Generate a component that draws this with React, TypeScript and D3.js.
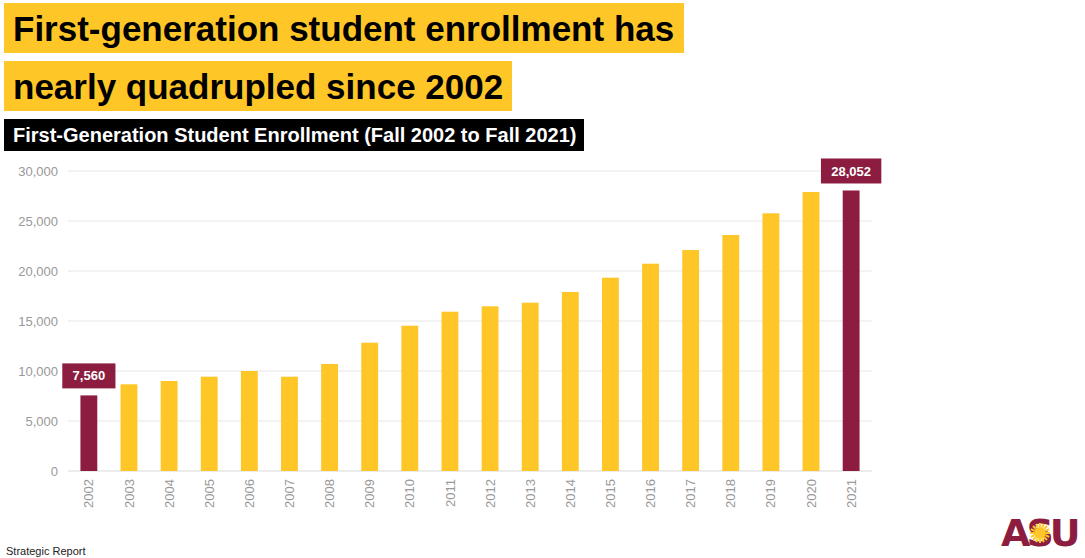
import React from "react";
import * as d3 from "d3";

const years = ["2002","2003","2004","2005","2006","2007","2008","2009","2010","2011","2012","2013","2014","2015","2016","2017","2018","2019","2020","2021"];
const enrollment = [7560,8670,9000,9430,10000,9430,10700,12830,14530,15930,16470,16830,17900,19330,20730,22100,23600,25770,27900,28052];
const highlighted = ["2002","2021"];
const yTicks = [0,5000,10000,15000,20000,25000,30000];
const titleLines = ["First-generation student enrollment has","nearly quadrupled since 2002"];
const subtitle = "First-Generation Student Enrollment (Fall 2002 to Fall 2021)";
const footer = "Strategic Report";

const W = 1085, H = 558;
const GOLD = "#FFC627";
const MAROON = "#8C1D40";
const FONT = "'Liberation Sans', Arial, Helvetica, sans-serif";

export default function App() {
  const x = d3.scaleBand<string>().domain(years).range([68, 872]).paddingInner(0.58).paddingOuter(0.31);
  const y = d3.scaleLinear().domain([0, 30000]).range([471, 171]);
  const fmt = d3.format(",");

  const sunRays = d3.range(16).map(i => {
    const a = (i / 16) * Math.PI * 2;
    return { x1: Math.cos(a) * 6, y1: Math.sin(a) * 6, x2: Math.cos(a) * 10, y2: Math.sin(a) * 10 };
  });

  return (
    <svg width={W} height={H} style={{ position: "absolute", left: 0, top: 0, background: "#fff" }} fontFamily={FONT}>
      {/* title boxes */}
      <rect x={4} y={3} width={680} height={50} fill={GOLD} />
      <text x={13} y={41} fontSize={35} fontWeight="bold" fill="#000">{titleLines[0]}</text>
      <rect x={4} y={61} width={508} height={50} fill={GOLD} />
      <text x={13} y={99} fontSize={35} fontWeight="bold" fill="#000">{titleLines[1]}</text>
      <rect x={4} y={119} width={580} height={32} fill="#000" />
      <text x={13} y={142} fontSize={20} fontWeight="bold" fill="#fff">{subtitle}</text>

      {/* gridlines and y ticks */}
      {yTicks.map(t => (
        <g key={t}>
          <line x1={68} x2={872} y1={y(t)} y2={y(t)} stroke={t === 0 ? "#d9d9d9" : "#e6e6e6"} strokeWidth={1} />
          <text x={58} y={y(t)} dy="0.35em" textAnchor="end" fontSize={13} fill="#999">{fmt(t)}</text>
        </g>
      ))}

      {/* bars */}
      {years.map((yr, i) => (
        <rect key={yr} x={x(yr)} y={y(enrollment[i])} width={x.bandwidth()} height={y(0) - y(enrollment[i])}
          fill={highlighted.includes(yr) ? MAROON : GOLD} />
      ))}

      {/* value labels for highlighted */}
      {years.map((yr, i) => {
        if (!highlighted.includes(yr)) return null;
        const label = fmt(enrollment[i]);
        const w = label.length * 7.23 + 17;
        const cx = (x(yr) as number) + x.bandwidth() / 2;
        const bottom = y(enrollment[i]) - 7;
        return (
          <g key={"l" + yr}>
            <rect x={cx - w / 2} y={bottom - 25} width={w} height={25} fill={MAROON} />
            <text x={cx} y={bottom - 12.5} dy="0.35em" textAnchor="middle" fontSize={13} fontWeight="bold" fill="#fff">{label}</text>
          </g>
        );
      })}

      {/* x labels */}
      {years.map(yr => (
        <text key={"x" + yr} transform={`translate(${(x(yr) as number) + x.bandwidth() / 2},479) rotate(-90)`}
          textAnchor="end" dy="0.35em" fontSize={13} fill="#999">{yr}</text>
      ))}

      {/* footer */}
      <text x={6} y={555} fontSize={11} fill="#222">{footer}</text>

      {/* ASU logo approximation */}
      <g>
        <text x={1001} y={546} fontSize={38} fontWeight="900" fill={MAROON} fontFamily="'DejaVu Sans', sans-serif" letterSpacing={-4}>ASU</text>
        <g transform="translate(1040,533)">
          <circle r={6} fill={GOLD} />
          {sunRays.map((r, i) => (
            <line key={i} x1={r.x1} y1={r.y1} x2={r.x2} y2={r.y2} stroke={GOLD} strokeWidth={2} />
          ))}
        </g>
      </g>
    </svg>
  );
}
